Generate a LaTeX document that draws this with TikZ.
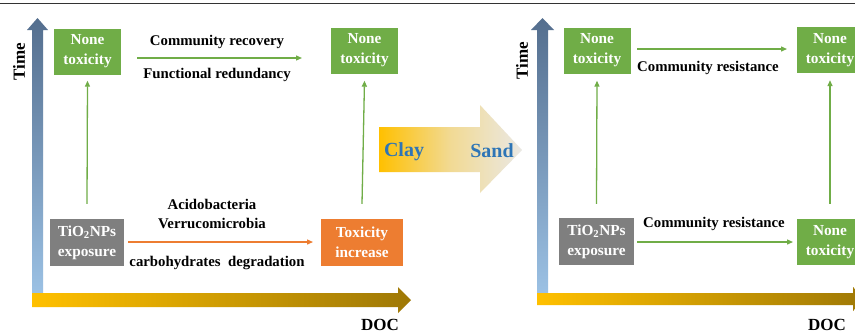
\documentclass[tikz,border=0pt]{standalone}
\usepackage{fontspec}
\setmainfont{Liberation Serif}
\usetikzlibrary{arrows.meta}
\definecolor{boxgreen}{HTML}{70AD47}
\definecolor{boxgray}{HTML}{7F7F7F}
\definecolor{boxorange}{HTML}{ED7D31}
\definecolor{axdark}{HTML}{546E8E}
\definecolor{axlight}{HTML}{9DC3E6}
\definecolor{goldA}{HTML}{FFC000}
\definecolor{goldB}{HTML}{9E7806}
\definecolor{clayblue}{HTML}{2E75B6}
\definecolor{fadegray}{HTML}{EAE8E4}
\tikzset{
  statebox/.style={fill=#1, text=white, font=\fontsize{15.3}{20}\selectfont\bfseries,
    align=center, minimum width=67pt, minimum height=46pt, inner sep=0pt},
  lbl/.style={font=\fontsize{14.8}{17}\selectfont\bfseries, inner sep=0pt, align=center},
  axlbl/.style={font=\fontsize{17}{20}\selectfont\bfseries, inner sep=0pt},
  garrow/.style={draw=boxgreen, line width=1.3pt, -{Triangle[length=6pt,width=5pt]}},
  oarrow/.style={draw=boxorange, line width=1.3pt, -{Triangle[length=6pt,width=5pt]}},
}
\begin{document}
\begin{tikzpicture}[x=1pt,y=-1pt]
\useasboundingbox (0,0) rectangle (855,333);
\clip (0,0) rectangle (855,333);
\fill[white] (0,0) rectangle (855,333);
% top rule
\draw[line width=1.2pt, black!80] (0,3.5) -- (855,3.5);

% ===== left panel axes =====
\shade[top color=axdark, bottom color=axlight]
  (32,300) -- (32,30) -- (27,30) -- (37.5,18) -- (48,30) -- (43,30) -- (43,300) -- cycle;
\shade[left color=goldA, right color=goldB]
  (32,293) -- (398,293) -- (398,287) -- (411,300) -- (398,313) -- (398,307) -- (32,307) -- cycle;
\node[axlbl, rotate=90] (timeL) at (19,62) {Time};
\node[axlbl, anchor=base] (docL) at (380,330) {DOC};

% ===== left panel boxes =====
\node[statebox=boxgreen] (nt1) at (87.5,51.5) {None\\toxicity};
\node[statebox=boxgreen] (nt2) at (364.5,50.5) {None\\toxicity};
\node[statebox=boxgray, minimum width=74pt, minimum height=47pt] (tio1) at (87,242.5) {TiO\textsubscript{2}NPs\\exposure};
\node[statebox=boxorange, minimum width=82pt, minimum height=47pt] (tox) at (362,242.5) {Toxicity\\increase};

\coordinate (a1s) at ([yshift=15pt]tio1.north);
\coordinate (a1e) at ([yshift=-6pt]nt1.south);
\draw[garrow] (a1s) -- (a1e);
\coordinate (a2s) at ([yshift=15pt]tox.north);
\coordinate (a2e) at ([yshift=-7pt]nt2.south);
\draw[garrow] (a2s) -- (a2e);
\coordinate (h1s) at (137,58);
\coordinate (h1e) at (302,58);
\draw[garrow] (h1s) -- (h1e);
\coordinate (o1s) at (128,242);
\coordinate (o1e) at (313,242);
\draw[oarrow] (o1s) -- (o1e);

\node[lbl] (cr) at (217,42) {Community recovery};
\node[lbl] (fr) at (217,75) {Functional redundancy};
\node[lbl] (acido) at (212,204) {Acidobacteria};
\node[lbl] (verru) at (212,223) {Verrucomicrobia};
\node[lbl] (carb) at (217,263) {carbohydrates\ \ degradation};

% ===== big arrow =====
\shade[left color=goldA, right color=fadegray, middle color=goldA!35!fadegray]
  (379,127) -- (480,127) -- (480,105) -- (522,150) -- (480,193) -- (480,172) -- (379,172) -- cycle;
\node[font=\fontsize{20}{22}\selectfont\bfseries, text=clayblue, inner sep=0pt] (clay) at (404,152) {Clay};
\node[font=\fontsize{20}{22}\selectfont\bfseries, text=clayblue, inner sep=0pt] (sand) at (492,151) {Sand};

% ===== right panel axes =====
\shade[top color=axdark, bottom color=axlight]
  (537,300) -- (537,30) -- (531,30) -- (542.5,18) -- (554,30) -- (548,30) -- (548,300) -- cycle;
\shade[left color=goldA, right color=goldB]
  (537,293) -- (853,293) -- (853,287) -- (866,299) -- (853,311) -- (853,305) -- (537,305) -- cycle;
\node[axlbl, rotate=90] (timeR) at (522,61) {Time};
\node[axlbl, anchor=base] (docR) at (827,330) {DOC};

% ===== right panel boxes =====
\node[statebox=boxgreen] (nt3) at (597,50.5) {None\\toxicity};
\node[statebox=boxgreen] (nt4) at (830,50) {None\\toxicity};
\node[statebox=boxgray, minimum width=75pt, minimum height=47pt] (tio2) at (596.5,241.5) {TiO\textsubscript{2}NPs\\exposure};
\node[statebox=boxgreen, minimum height=46pt] (nt5) at (830,242) {None\\toxicity};

\coordinate (a3s) at ([yshift=14pt]tio2.north);
\coordinate (a3e) at ([yshift=-7pt]nt3.south);
\draw[garrow] (a3s) -- (a3e);
\coordinate (a4s) at ([yshift=15pt]nt5.north);
\coordinate (a4e) at ([yshift=-7pt]nt4.south);
\draw[garrow] (a4s) -- (a4e);
\coordinate (h2s) at (637,49);
\coordinate (h2e) at (787,49);
\draw[garrow] (h2s) -- (h2e);
\coordinate (h3s) at (637,242);
\coordinate (h3e) at (793,242);
\draw[garrow] (h3s) -- (h3e);

\node[lbl] (cres1) at (708,68) {Community resistance};
\node[lbl] (cres2) at (714,224) {Community resistance};
\end{tikzpicture}
\end{document}
